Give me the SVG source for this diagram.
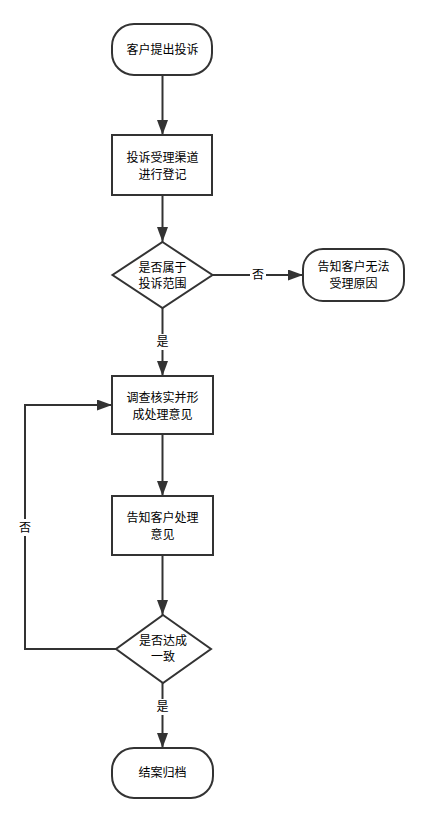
<svg xmlns="http://www.w3.org/2000/svg" width="429" height="823" viewBox="0 0 429 823">
<style>
.n{fill:#fff;stroke:#333;stroke-width:2}
.t{font-family:"Noto Sans CJK SC","Liberation Sans",sans-serif;font-size:12px;fill:#000;text-anchor:middle}
.e{fill:none;stroke:#333;stroke-width:2}
.lb{fill:#fff}
</style>
<defs>
<marker id="a" viewBox="0 0 15 11" refX="15" refY="5.5" markerWidth="7.5" markerHeight="5.5" orient="auto" markerUnits="strokeWidth">
<path d="M0,0 L15,5.5 L0,11 z" fill="#333"/>
</marker>
</defs>
<rect width="429" height="823" fill="#fff"/>
<g id="edges">
<path class="e" d="M162.5,75 V135" marker-end="url(#a)"/>
<path class="e" d="M162.5,195 V242" marker-end="url(#a)"/>
<path class="e" d="M212.5,275 H303" marker-end="url(#a)"/>
<path class="e" d="M162.5,308 V376" marker-end="url(#a)"/>
<path class="e" d="M162.5,434 V496" marker-end="url(#a)"/>
<path class="e" d="M162.5,555 V615" marker-end="url(#a)"/>
<path class="e" d="M162.5,683 V748" marker-end="url(#a)"/>
<path class="e" d="M116,649 H25 V405 H112" marker-end="url(#a)"/>
<rect class="lb" x="250" y="267" width="16" height="16"/>
<text class="t" x="258" y="279">否</text>
<rect class="lb" x="155" y="334" width="15" height="16"/>
<text class="t" x="162.5" y="346">是</text>
<rect class="lb" x="17" y="519" width="16" height="17"/>
<text class="t" x="25" y="532">否</text>
<rect class="lb" x="155" y="699" width="15" height="16"/>
<text class="t" x="162.5" y="711">是</text>
</g>
<g id="start">
<rect class="n" x="112" y="24" width="100" height="51" rx="22" ry="22"/>
<text class="t" x="162.5" y="54">客户提出投诉</text>
</g>
<g id="register">
<rect class="n" x="112" y="135" width="100" height="60"/>
<text class="t" x="162.5" y="162">投诉受理渠道</text>
<text class="t" x="162.5" y="179">进行登记</text>
</g>
<g id="decision1">
<path class="n" d="M162.5,242 L212.5,275 L162.5,308 L112.5,275 Z"/>
<text class="t" x="162.5" y="272">是否属于</text>
<text class="t" x="162.5" y="288">投诉范围</text>
</g>
<g id="reject">
<rect class="n" x="303" y="249" width="101" height="52" rx="20" ry="20"/>
<text class="t" x="353.5" y="271">告知客户无法</text>
<text class="t" x="353.5" y="288">受理原因</text>
</g>
<g id="investigate">
<rect class="n" x="112" y="376" width="101" height="58"/>
<text class="t" x="162.5" y="402">调查核实并形</text>
<text class="t" x="162.5" y="419">成处理意见</text>
</g>
<g id="inform">
<rect class="n" x="112" y="496" width="101" height="59"/>
<text class="t" x="162.5" y="522">告知客户处理</text>
<text class="t" x="162.5" y="539">意见</text>
</g>
<g id="decision2">
<path class="n" d="M163,615 L211,649 L163,683 L116,649 Z"/>
<text class="t" x="163" y="645">是否达成</text>
<text class="t" x="163" y="661">一致</text>
</g>
<g id="end">
<rect class="n" x="112" y="748" width="101" height="50" rx="22" ry="22"/>
<text class="t" x="162.5" y="777">结案归档</text>
</g>
</svg>
